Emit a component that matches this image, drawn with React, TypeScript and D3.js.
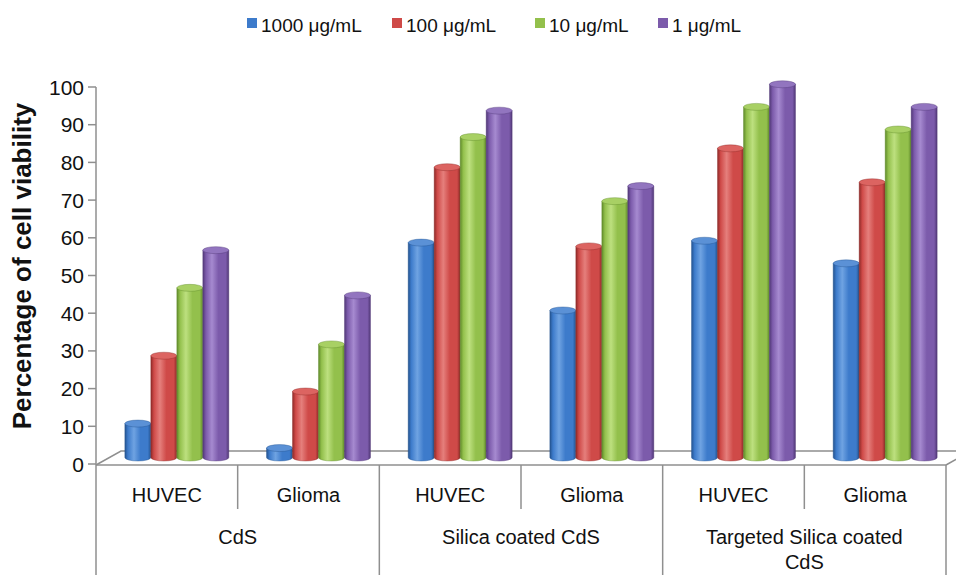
import React from "react";
import * as d3 from "d3";

const groups = ["CdS", "Silica coated CdS", "Targeted Silica coated CdS"];
const groupLines = [["CdS"], ["Silica coated CdS"], ["Targeted Silica coated", "CdS"]];
const cells = ["HUVEC", "Glioma"];
const series = ["1000 μg/mL", "100 μg/mL", "10 μg/mL", "1 μg/mL"];
// values per series, across the 6 category columns (CdS HUVEC, CdS Glioma, Silica HUVEC, Silica Glioma, Targeted HUVEC, Targeted Glioma)
const v1000 = [9, 2.5, 57, 39, 57.5, 51.5];
const v100 = [27, 17.5, 77, 56, 82, 73];
const v10 = [45, 30, 85, 68, 93, 87];
const v1 = [55, 43, 92, 72, 99, 93];
const seriesValues = [v1000, v100, v10, v1];
const yTicks = [0, 10, 20, 30, 40, 50, 60, 70, 80, 90, 100];

const colors = ["#3d7bcb", "#cf4a48", "#93c04c", "#7c5bab"];
const dark = ["#24538f", "#8e2a28", "#5f8a2a", "#513877"];
const light = ["#6fa3e2", "#e57f7c", "#bde07f", "#a68ad0"];
const topC = ["#5b91d6", "#dc6461", "#a8d064", "#9275bf"];

const W = 956, H = 575;
const left = 96, right = 946, frontY = 465, dx = 25, dy = -14;
const font = "'Liberation Sans', Arial, sans-serif";

export default function App() {
  const cols = d3.range(6);
  const x = d3.scaleBand<number>().domain(cols).range([left, right]).padding(0);
  const xs = d3.scaleBand<number>().domain(d3.range(4)).range([0, x.bandwidth()]).paddingInner(0).paddingOuter(0.725);
  const y = d3.scaleLinear().domain([0, 100]).range([464, 87]);
  const barShift = 10;
  const barBaseOffset = -6.5;
  const ry = 3.5;
  const lineC = "#8f8f8f";

  const bars: React.ReactNode[] = [];
  seriesValues.forEach((vals, si) => {
    vals.forEach((v, ci) => {
      const x0 = (x(ci) as number) + (xs(si) as number) + barShift;
      const w = xs.bandwidth();
      const yb = y(0) + barBaseOffset;
      const yt = y(v) + barBaseOffset;
      const rx = w / 2;
      const body = `M${x0},${yt} L${x0},${yb} A${rx},${ry} 0 0 0 ${x0 + w},${yb} L${x0 + w},${yt} Z`;
      bars.push(
        <g key={`${si}-${ci}`}>
          <path d={body} fill={`url(#g${si})`} stroke={dark[si]} strokeWidth={0.4} />
          <ellipse cx={x0 + rx} cy={yt} rx={rx} ry={ry} fill={topC[si]} stroke={dark[si]} strokeWidth={0.4} />
        </g>
      );
    });
  });

  const legendX = [247, 392, 535, 658];

  return (
    <svg width={W} height={H} style={{ position: "absolute", left: 0, top: 0, background: "#fff" }} fontFamily={font}>
      <defs>
        {colors.map((c, i) => (
          <linearGradient key={i} id={`g${i}`} x1="0" x2="1" y1="0" y2="0">
            <stop offset="0" stopColor={dark[i]} />
            <stop offset="0.12" stopColor={c} />
            <stop offset="0.35" stopColor={light[i]} />
            <stop offset="0.6" stopColor={c} />
            <stop offset="0.88" stopColor={c} />
            <stop offset="1" stopColor={dark[i]} />
          </linearGradient>
        ))}
      </defs>
      <rect width={W} height={H} fill="#fff" />

      {/* legend */}
      {series.map((s, i) => (
        <g key={s}>
          <rect x={legendX[i]} y={18} width={10} height={10} fill={colors[i]} />
          <text x={legendX[i] + 14} y={32} fontSize={19} fill="#111">{s}</text>
        </g>
      ))}

      {/* floor */}
      <path
        d={`M${left},${frontY} L${left + dx},${frontY + dy} L${right + dx},${frontY + dy} M${right},${frontY} L${right + dx},${frontY + dy}`}
        fill="none" stroke={lineC} strokeWidth={1.5}
      />

      {/* y axis */}
      <line x1={left} x2={left} y1={y(100)} y2={H} stroke={lineC} strokeWidth={1.5} />
      {yTicks.map((t) => (
        <g key={t}>
          <line x1={left - 8} x2={left} y1={y(t)} y2={y(t)} stroke={lineC} strokeWidth={1.5} />
          <text x={84} y={y(t)} dy="0.36em" textAnchor="end" fontSize={21} fill="#111">{t}</text>
        </g>
      ))}
      <text
        transform={`translate(31,266) rotate(-90)`}
        textAnchor="middle" fontSize={26} fontWeight="bold" fill="#111"
      >Percentage of cell viability</text>

      {bars}

      {/* category table */}
      <line x1={left} x2={right} y1={frontY} y2={frontY} stroke={lineC} strokeWidth={1.5} />
      {cols.map((c) => {
        const xr = (x(c) as number) + x.bandwidth();
        const long = c % 2 === 1;
        return <line key={c} x1={xr} x2={xr} y1={frontY} y2={long ? H : 509} stroke={lineC} strokeWidth={1.5} />;
      })}
      {cols.map((c) => (
        <text key={c} x={(x(c) as number) + x.bandwidth() / 2} y={502} textAnchor="middle" fontSize={20} fill="#111">
          {cells[c % 2]}
        </text>
      ))}
      {groups.map((g, gi) => {
        const cx = (x(gi * 2) as number) + x.bandwidth();
        return (
          <text key={g} x={cx} y={544} textAnchor="middle" fontSize={20} fill="#111">
            {groupLines[gi].map((ln, li) => (
              <tspan key={li} x={cx} dy={li === 0 ? 0 : 25}>{ln}</tspan>
            ))}
          </text>
        );
      })}
    </svg>
  );
}
